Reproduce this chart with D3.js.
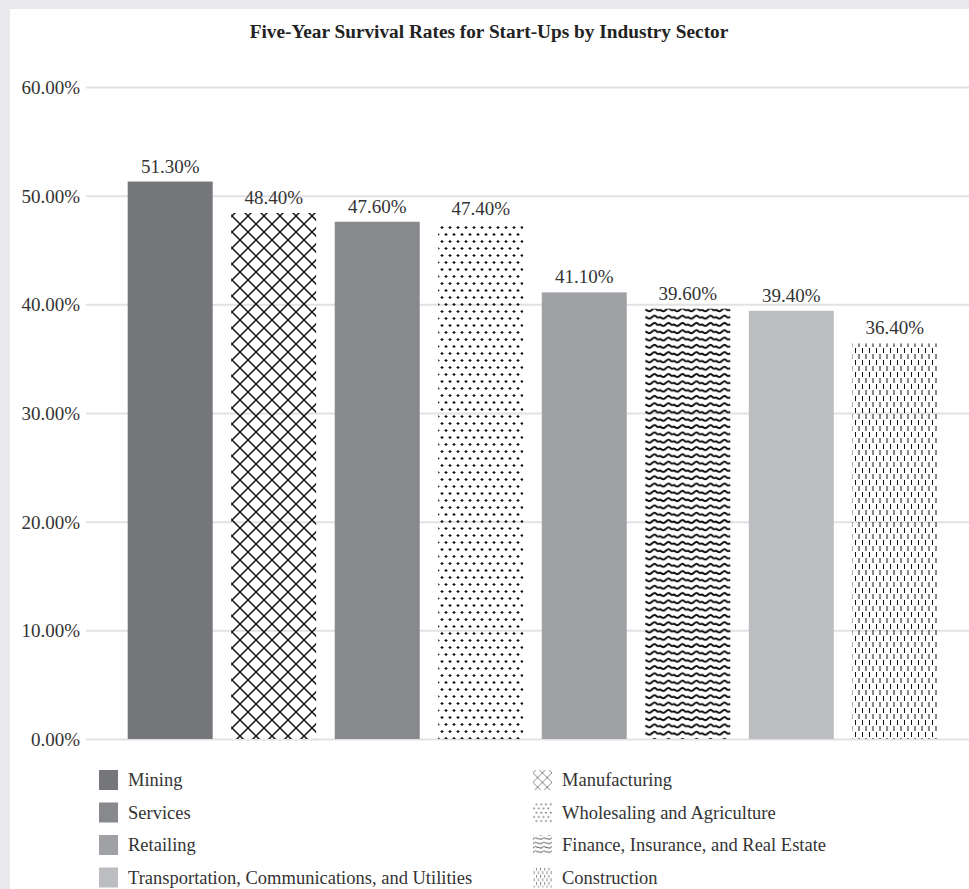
<!DOCTYPE html>
<html><head><meta charset="utf-8">
<script src="https://cdn.jsdelivr.net/npm/d3@7"></script>
<style>
html,body{margin:0;padding:0;background:#e9e9eb;}
text{font-family:"Liberation Serif","Times New Roman",serif;}
</style></head>
<body>
<svg id="chart" width="969" height="889"></svg>
<script>
const title = "Five-Year Survival Rates for Start-Ups by Industry Sector";
const categories = ["Mining","Manufacturing","Services","Wholesaling and Agriculture","Retailing","Finance, Insurance, and Real Estate","Transportation, Communications, and Utilities","Construction"];
const values = [0.513,0.484,0.476,0.474,0.411,0.396,0.394,0.364];
const valueLabels = ["51.30%","48.40%","47.60%","47.40%","41.10%","39.60%","39.40%","36.40%"];
const yTicks = [0,0.1,0.2,0.3,0.4,0.5,0.6];
const legendLeft = ["Mining","Services","Retailing","Transportation, Communications, and Utilities"];
const legendRight = ["Manufacturing","Wholesaling and Agriculture","Finance, Insurance, and Real Estate","Construction"];

const fills = {
  "Mining":"#76777b","Services":"#88898d","Retailing":"#a0a1a5",
  "Transportation, Communications, and Utilities":"#bcbdc1",
  "Manufacturing":"url(#p-manu)","Wholesaling and Agriculture":"url(#p-whole)",
  "Finance, Insurance, and Real Estate":"url(#p-fin)","Construction":"url(#p-cons)"
};
const legendFills = Object.assign({}, fills, {
  "Manufacturing":"url(#l-manu)","Wholesaling and Agriculture":"url(#l-whole)",
  "Finance, Insurance, and Real Estate":"url(#l-fin)","Construction":"url(#l-cons)"
});

const svg = d3.select("#chart");
svg.append("rect").attr("x",10).attr("y",9).attr("width",959).attr("height",880).attr("fill","#fff");

const defs = svg.append("defs");
function makePatterns(prefix, s, col){
  const thin = s < 1;
  // diamond lattice
  let p = defs.append("pattern").attr("id",prefix+"-manu").attr("patternUnits","userSpaceOnUse")
    .attr("width",16*s).attr("height",16*s);
  p.append("path").attr("d",`M0,0L${16*s},${16*s}M${16*s},0L0,${16*s}`)
    .attr("stroke",col).attr("stroke-width",thin?0.8:1.5).attr("fill","none");
  // staggered small crosses
  p = defs.append("pattern").attr("id",prefix+"-whole").attr("patternUnits","userSpaceOnUse")
    .attr("width",8*s).attr("height",14*s);
  [[2,3.5],[6,10.5]].forEach(([x,y])=>{
    p.append("path").attr("d",`M${(x-1.5)*s},${y*s}h${3*s}M${x*s},${(y-1.5)*s}v${3*s}`)
      .attr("stroke",col).attr("stroke-width",thin?0.8:1.2);
  });
  // waves
  p = defs.append("pattern").attr("id",prefix+"-fin").attr("patternUnits","userSpaceOnUse")
    .attr("width",14*s).attr("height",7.3*s);
  p.append("path").attr("d",`M0,${4*s} C${3.5*s},${1*s} ${3.5*s},${7*s} ${7*s},${4*s} S${10.5*s},${1*s} ${14*s},${4*s}`)
    .attr("stroke",col).attr("stroke-width",thin?0.9:2).attr("fill","none");
  // dashed verticals
  p = defs.append("pattern").attr("id",prefix+"-cons").attr("patternUnits","userSpaceOnUse")
    .attr("width",7*s).attr("height",12*s);
  p.append("path").attr("d",`M${1.5*s},0v${5*s}M${5*s},${6*s}v${5*s}`)
    .attr("stroke",col).attr("stroke-width",thin?0.8:1);
}
makePatterns("p",1,"#111");
makePatterns("l",0.6,"#666");

const x = d3.scaleBand().domain(categories).range([107,958]).paddingInner(0.179).paddingOuter(0.2);
const y = d3.scaleLinear().domain([0,0.6]).range([739,87]);

// gridlines + y axis
const yAxis = d3.axisLeft(y).tickValues(yTicks).tickFormat(d=>d3.format(".2f")(d*100)+"%").tickSize(0).tickPadding(6);
const gy = svg.append("g").attr("transform","translate(86,0)").call(yAxis);
gy.select(".domain").remove();
gy.selectAll(".tick text").attr("fill","#333").style("font-size","19px").attr("dy","0.35em");
gy.selectAll(".tick").append("line").attr("x1",0).attr("x2",883).attr("stroke","#e2e2e4").attr("stroke-width",2);

// bars
svg.append("g").selectAll("rect").data(categories).join("rect")
  .attr("x",d=>x(d)).attr("width",x.bandwidth())
  .attr("y",(d,i)=>y(values[i])).attr("height",(d,i)=>y(0)-y(values[i]))
  .attr("fill",d=>fills[d]);

svg.append("g").selectAll("text").data(categories).join("text")
  .attr("x",d=>x(d)+x.bandwidth()/2).attr("y",(d,i)=>y(values[i])-9)
  .attr("text-anchor","middle").attr("fill","#333").style("font-size","19px")
  .text((d,i)=>valueLabels[i]);

// title
svg.append("text").attr("x",489).attr("y",38).attr("text-anchor","middle")
  .attr("fill","#222").style("font-size","19.3px").style("font-weight","bold").text(title);

// legend
function legendCol(items, x0){
  const g = svg.append("g");
  items.forEach((d,i)=>{
    const cy = 780 + i*32.5;
    g.append("rect").attr("x",x0).attr("y",cy-10).attr("width",19).attr("height",20).attr("fill",legendFills[d]);
    g.append("text").attr("x",x0+29).attr("y",cy).attr("dy","0.35em").attr("fill","#333")
      .style("font-size","18.5px").text(d);
  });
}
legendCol(legendLeft, 99);
legendCol(legendRight, 533);
</script>
</body></html>
